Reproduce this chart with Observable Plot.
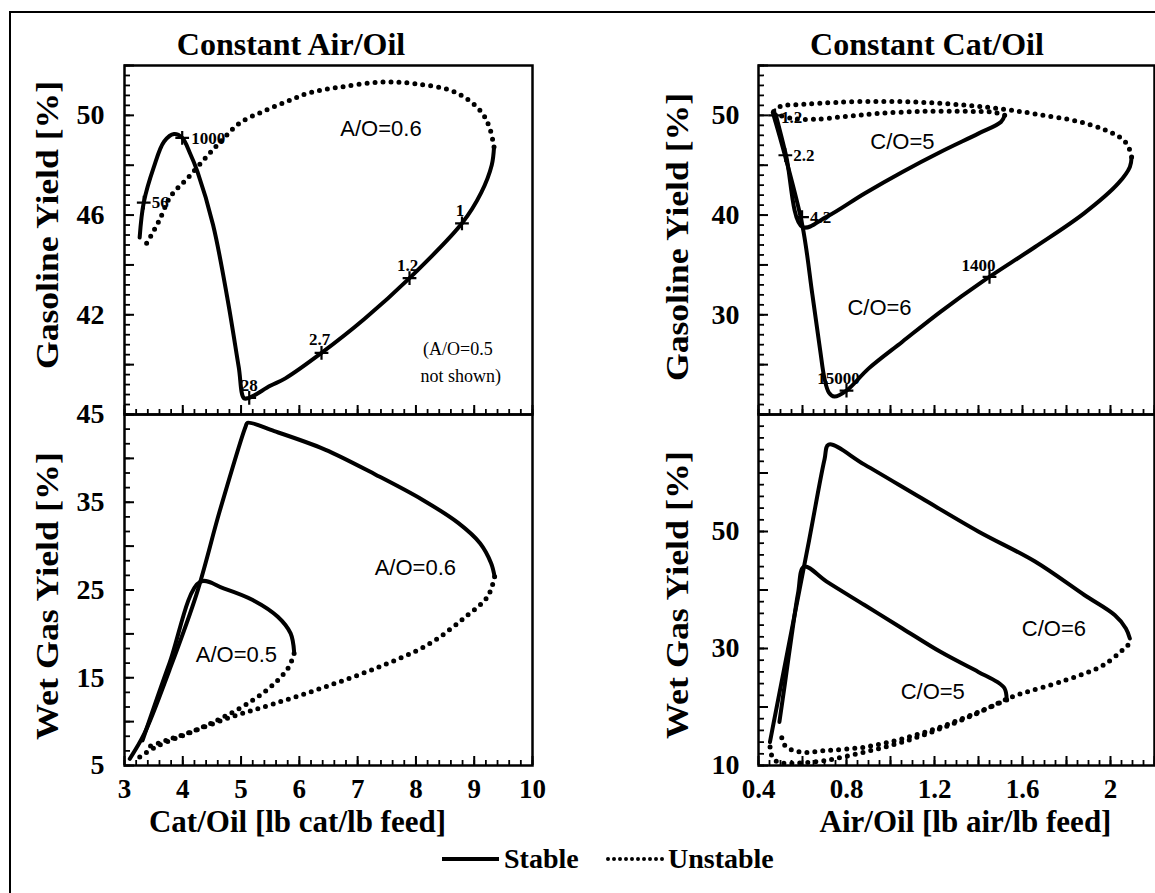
<!DOCTYPE html>
<html>
<head>
<meta charset="utf-8">
<script src="https://cdn.jsdelivr.net/npm/d3@7"></script>
<script src="https://cdn.jsdelivr.net/npm/@observablehq/plot@0.6"></script>
<style>
  html, body { margin: 0; padding: 0; background: #fff; }
  #fig { position: relative; width: 1155px; height: 893px; overflow: hidden; background: #fff; }
  #fig > svg, #fig > .panel { position: absolute; }
</style>
</head>
<body>
<div id="fig"></div>
<script>
// ---------------------------------------------------------------------------
// Gasoline yield vs cat/oil ratio at constant air/oil (A/O = 0.6)
const gasAO06Stable = [[3.26,45.1],[3.33,46.5],[3.5,47.9],[3.68,48.95],[3.85,49.25],[3.99,49.1],[4.12,48.5],[4.25,47.75],[4.52,45.6],[4.77,42.6],[4.96,39.9],[5.05,38.65],[5.14,38.67],[5.5,39.15],[5.76,39.45],[6.38,40.47],[7.12,41.84],[7.89,43.47],[8.79,45.67],[9.12,46.9],[9.3,48.0],[9.34,48.73]];
const gasAO06Unstable = [[9.34,48.73],[9.26,49.53],[9.1,50.2],[8.67,50.93],[7.99,51.27],[7.37,51.33],[6.69,51.13],[6.17,50.9],[5.78,50.55],[5.37,50.15],[4.98,49.7],[4.69,49.05],[4.43,48.4],[4.09,47.5],[3.79,46.75],[3.6,45.8],[3.45,45.15],[3.35,44.75]];
const gasAO06Points = [[3.33,46.5],[3.99,49.1],[5.14,38.67],[6.38,40.47],[7.89,43.47],[8.79,45.67]];
const gasAO06Labels = ["56","1000","28","2.7","1.2","1"];

// Wet gas yield vs cat/oil ratio at constant air/oil
const wetAO06Stable = [[3.09,5.76],[3.34,8.62],[3.77,15.86],[4.24,24.62],[4.64,34.14],[5.08,43.67],[5.11,44.05],[5.57,43.1],[6.44,41.0],[7.31,38.14],[8.11,35.29],[8.73,32.62],[9.1,30.33],[9.29,28.05],[9.35,26.52]];
const wetAO06Unstable = [[9.35,26.52],[9.23,24.24],[8.85,21.95],[8.24,18.9],[7.37,16.24],[6.44,13.95],[5.57,12.05],[4.83,10.52],[4.08,8.62],[3.53,7.1],[3.22,5.76]];
const wetAO05Stable = [[3.31,7.86],[3.77,16.62],[4.3,25.95],[4.7,25.19],[5.2,23.86],[5.63,21.95],[5.85,20.05],[5.91,17.95]];
const wetAO05Unstable = [[5.91,17.76],[5.82,16.24],[5.57,14.33],[5.2,12.43],[4.7,10.52],[4.21,9.0],[3.71,7.86],[3.4,7.1]];

// Gasoline yield vs air/oil ratio at constant cat/oil (C/O = 5 and 6)
const gasCO6Stable = [[0.465,50.3],[0.52,46.0],[0.6,38.9],[0.645,32.0],[0.68,26.5],[0.7,23.6],[0.72,22.2],[0.745,21.8],[0.8,22.4],[0.9,24.6],[1.054,27.3],[1.227,30.3],[1.416,33.3],[1.657,36.8],[1.881,40.2],[2.036,43.2],[2.088,44.83],[2.096,45.83]];
const gasCO6Unstable = [[2.096,45.83],[2.088,46.5],[2.06,47.5],[1.98,48.5],[1.85,49.4],[1.67,50.1],[1.52,50.6],[1.35,51.0],[1.15,51.3],[0.95,51.4],[0.75,51.3],[0.6,51.1],[0.5,50.9],[0.465,50.3]];
const gasCO5Stable = [[0.478,50.1],[0.525,46.0],[0.6,38.8],[0.71,39.83],[0.882,42.17],[1.054,44.33],[1.227,46.33],[1.399,48.17],[1.502,49.33],[1.519,50.0]];
const gasCO5Unstable = [[1.519,50.0],[1.47,50.3],[1.35,50.4],[1.15,50.4],[0.95,50.2],[0.8,49.9],[0.65,49.6],[0.55,49.7],[0.48,50.1]];
const gasCOPoints = [[0.475,50.0],[0.522,46.0],[0.598,39.8],[1.45,33.8],[0.8,22.4]];
const gasCOLabels = ["1.2","2.2","4.2","1400","15000"];

// Wet gas yield vs air/oil ratio at constant cat/oil
const wetCO6Stable = [[0.452,14.0],[0.475,18.5],[0.55,33.0],[0.63,48.5],[0.7,62.3],[0.719,64.86],[0.882,61.43],[1.14,55.71],[1.399,50.0],[1.657,44.86],[1.881,39.14],[2.019,35.71],[2.07,33.43],[2.088,31.71]];
const wetCO6Unstable = [[2.079,30.57],[1.967,27.14],[1.795,24.57],[1.571,22.0],[1.519,21.2],[1.399,19.0],[1.227,16.3],[1.054,14.0],[0.882,12.3],[0.71,10.9],[0.572,10.4],[0.486,10.6],[0.46,11.7],[0.452,13.4]];
const wetCO5Stable = [[0.495,17.43],[0.52,24.0],[0.55,32.0],[0.58,39.5],[0.607,44.0],[0.71,41.43],[0.882,37.43],[1.054,33.43],[1.227,29.43],[1.399,26.0],[1.485,24.29],[1.519,23.14],[1.528,21.43]];
const wetCO5Unstable = [[1.528,21.2],[1.399,19.14],[1.227,16.57],[1.054,14.57],[0.882,13.14],[0.71,12.57],[0.589,12.3],[0.52,13.43],[0.5,16.0]];

// Axis tick labels
const catOilTicks = [3,4,5,6,7,8,9,10];
const airOilTicks = [0.4,0.8,1.2,1.6,2];
const gasAOTicks = [42,46,50];
const wetAOTicks = [5,15,25,35,45];
const gasCOTicks = [30,40,50];
const wetCOTicks = [10,30,50];

// Panel titles, axis titles and key
const columnTitles = ["Constant Air/Oil", "Constant Cat/Oil"];
const xTitles = ["Cat/Oil [lb cat/lb feed]", "Air/Oil [lb air/lb feed]"];
const yTitles = ["Gasoline Yield [%]", "Wet Gas Yield [%]"];
const legendLabels = ["Stable", "Unstable"];
// ---------------------------------------------------------------------------

const SERIF = "'Liberation Serif', 'Times New Roman', serif";
const SANS = "'Liberation Sans', Arial, sans-serif";
const fig = document.getElementById("fig");

// page-pixel geometry of the four frames
const COLS = {
  left:  {x0: 124, x1: 532, svgX: 0,   svgW: 560, titleDx: -76, labelDx: -20},
  right: {x0: 758, x1: 1154, svgX: 560, svgW: 595, titleDx: -80, labelDx: -19}
};
const ROWS = {top: {y0: 65, y1: 414, svgY: 0, bottom: 2}, bottom: {y0: 414, y1: 765, svgY: 400, bottom: 80}};

const pair = {x: d => d[0], y: d => d[1]};
const solid = (data) => Plot.line(data, {...pair, curve: "catmull-rom", stroke: "black", strokeWidth: 4, strokeLinejoin: "round", strokeLinecap: "round"});
const dotted = (data) => Plot.line(data, {...pair, curve: "catmull-rom", stroke: "black", strokeWidth: 5, strokeDasharray: "0 8", strokeLinecap: "round"});
const note = (x, y, text, extra = {}) => Plot.text([text], {x: () => x, y: () => y, text: d => d, fontFamily: SANS, fontSize: 22, fontWeight: "normal", ...extra});

function ticksY(minor, major, fw) {
  return [
    Plot.tickY(minor, {y: d => d, insetRight: fw - 6, stroke: "black", strokeWidth: 1.8}),
    Plot.tickY(major, {y: d => d, insetRight: fw - 10, stroke: "black", strokeWidth: 2})
  ];
}
function ticksX(minor, major, fh) {
  return [
    Plot.tickX(minor, {x: d => d, insetTop: fh - 5, stroke: "black", strokeWidth: 1.8}),
    Plot.tickX(major, {x: d => d, insetTop: fh - 9, stroke: "black", strokeWidth: 2})
  ];
}

function panel({col, row, xDomain, yDomain, xMinor, xMajor, yMinor, yMajor, yLabels, yTitle, yTitleDy = 0, xLabels, xTitle, xTitleDx = 0, marks}) {
  const c = COLS[col], r = ROWS[row];
  const fw = c.x1 - c.x0, fh = r.y1 - r.y0;
  const marginLeft = c.x0 - c.svgX;
  const marginRight = c.svgX + c.svgW - c.x1;
  const marginTop = r.y0 - r.svgY;
  const marginBottom = r.bottom;
  const all = [
    ...marks,
    ...ticksY(yMinor, yMajor, fw),
    ...ticksX(xMinor, xMajor, fh),
    Plot.frame({stroke: "black", strokeWidth: 2.5}),
    Plot.text(yLabels, {y: d => d, text: d => String(d), frameAnchor: "left", textAnchor: "end", dx: c.labelDx, fontSize: 28, fontWeight: "bold", fontFamily: SERIF}),
    Plot.text([yTitle], {text: d => d, frameAnchor: "left", textAnchor: "middle", dx: c.titleDx, dy: yTitleDy, rotate: -90, fontSize: 31, fontWeight: "bold", fontFamily: SERIF})
  ];
  if (xLabels) {
    all.push(Plot.text(xLabels, {x: d => d, text: d => String(d), frameAnchor: "bottom", dy: 32, fontSize: 27, fontWeight: "bold", fontFamily: SERIF}));
    all.push(Plot.text([xTitle], {text: d => d, frameAnchor: "bottom", dy: 66, dx: xTitleDx, fontSize: 31, fontWeight: "bold", fontFamily: SERIF}));
  }
  const svg = Plot.plot({
    width: c.svgW,
    height: marginTop + fh + marginBottom,
    marginLeft, marginRight, marginTop, marginBottom,
    x: {domain: xDomain, axis: null},
    y: {domain: yDomain, axis: null},
    style: {fontFamily: SERIF, background: "transparent", overflow: "visible", color: "black"},
    marks: all
  });
  // the rotated axis titles are set a little taller than the type
  svg.querySelectorAll("text").forEach(t => {
    if (t.textContent === yTitle) {
      t.setAttribute("textLength", 288);
      t.setAttribute("lengthAdjust", "spacingAndGlyphs");
    }
  });
  const holder = document.createElement("div");
  holder.className = "panel";
  holder.style.left = c.svgX + "px";
  holder.style.top = r.svgY + "px";
  holder.appendChild(svg);
  fig.appendChild(holder);
}

const range = (a, b, s) => d3.range(Math.round((b - a) / s) + 1).map(i => +(a + i * s).toFixed(4));

// labelled parameter points along the curves
function pointMarks(points, labels, place) {
  const rows = points.map((p, i) => ({x: p[0], y: p[1], label: labels[i]}));
  return [
    Plot.dot(rows, {x: "x", y: "y", symbol: "plus", r: 4.5, stroke: "black", strokeWidth: 2.2}),
    ...rows.map(d => Plot.text([d], {x: "x", y: "y", text: "label", fontSize: 17, fontWeight: "bold", fontFamily: SERIF, ...place[d.label]}))
  ];
}
const right = {textAnchor: "start", dx: 8, dy: 0};
const above = {textAnchor: "middle", dx: -2, dy: -13};

// Top left: gasoline yield, constant air/oil
panel({
  col: "left", row: "top", xDomain: [3, 10], yDomain: [38, 52],
  xMinor: range(3, 10, 0.2), xMajor: range(3, 10, 1),
  yMinor: range(38, 52, 0.4), yMajor: range(38, 52, 2),
  yLabels: gasAOTicks, yTitle: yTitles[0], yTitleDy: -15,
  marks: [
    dotted(gasAO06Unstable),
    solid(gasAO06Stable),
    ...pointMarks(gasAO06Points, gasAO06Labels, {
      "56": right, "1000": {textAnchor: "start", dx: 9, dy: 1}, "28": {textAnchor: "middle", dy: -12}, "2.7": above, "1.2": above, "1": above
    }),
    note(7.4, 49.45, "A/O=0.6"),
    note(8.72, 40.6, "(A/O=0.5", {fontFamily: SERIF, fontSize: 18}),
    note(8.77, 39.55, "not shown)", {fontFamily: SERIF, fontSize: 18})
  ]
});

// Bottom left: wet gas yield, constant air/oil
panel({
  col: "left", row: "bottom", xDomain: [3, 10], yDomain: [5, 45],
  xMinor: range(3, 10, 0.2), xMajor: range(3, 10, 1),
  yMinor: range(5, 45, 10 / 6), yMajor: range(5, 45, 5),
  yLabels: wetAOTicks, yTitle: yTitles[1], yTitleDy: 6,
  xLabels: catOilTicks, xTitle: xTitles[0], xTitleDx: -31,
  marks: [
    dotted(wetAO06Unstable),
    dotted(wetAO05Unstable),
    solid(wetAO06Stable),
    solid(wetAO05Stable),
    note(7.99, 27.5, "A/O=0.6"),
    note(4.92, 17.6, "A/O=0.5")
  ]
});

// Top right: gasoline yield, constant cat/oil
panel({
  col: "right", row: "top", xDomain: [0.4, 2.2], yDomain: [20, 55],
  xMinor: range(0.4, 2.2, 0.05), xMajor: range(0.4, 2.2, 0.2),
  yMinor: range(20, 55, 1), yMajor: range(20, 55, 5),
  yLabels: gasCOTicks, yTitle: yTitles[0], yTitleDy: -3,
  marks: [
    dotted(gasCO6Unstable),
    dotted(gasCO5Unstable),
    solid(gasCO6Stable),
    solid(gasCO5Stable),
    ...pointMarks(gasCOPoints, gasCOLabels, {
      "1.2": {textAnchor: "start", dx: 6, dy: 2},
      "2.2": right, "4.2": right,
      "1400": {textAnchor: "end", dx: 6, dy: -11},
      "15000": {textAnchor: "middle", dx: -8, dy: -12}
    }),
    note(1.054, 47.35, "C/O=5"),
    note(0.95, 30.7, "C/O=6")
  ]
});

// Bottom right: wet gas yield, constant cat/oil
panel({
  col: "right", row: "bottom", xDomain: [0.4, 2.2], yDomain: [10, 70],
  xMinor: range(0.4, 2.2, 0.05), xMajor: range(0.4, 2.2, 0.2),
  yMinor: range(10, 70, 2), yMajor: range(10, 70, 10),
  yLabels: wetCOTicks, yTitle: yTitles[1], yTitleDy: 5,
  xLabels: airOilTicks, xTitle: xTitles[1], xTitleDx: 9,
  marks: [
    dotted(wetCO6Unstable),
    dotted(wetCO5Unstable),
    solid(wetCO6Stable),
    solid(wetCO5Stable),
    note(1.743, 33.4, "C/O=6"),
    note(1.192, 22.6, "C/O=5")
  ]
});

// Outer box, column titles and the stable / unstable key
const over = d3.select(fig).insert("svg", ":first-child")
  .attr("width", 1155).attr("height", 893)
  .style("left", "0px").style("top", "0px");
over.append("rect").attr("x", 10).attr("y", 12).attr("width", 1200).attr("height", 1000)
  .attr("fill", "none").attr("stroke", "black").attr("stroke-width", 2);
over.selectAll("text.col").data(columnTitles).join("text")
  .attr("x", (d, i) => i === 0 ? 291 : 927).attr("y", 55)
  .attr("text-anchor", "middle")
  .style("font-family", SERIF).style("font-weight", "bold").style("font-size", "32px")
  .text(d => d);

const key = over.append("g").attr("transform", "translate(0,859)");
key.append("line").attr("x1", 442).attr("x2", 499).attr("y1", 0).attr("y2", 0)
  .attr("stroke", "black").attr("stroke-width", 4);
key.append("line").attr("x1", 608).attr("x2", 664).attr("y1", 0).attr("y2", 0)
  .attr("stroke", "black").attr("stroke-width", 4).attr("stroke-dasharray", "0 6").attr("stroke-linecap", "round");
key.selectAll("text").data(legendLabels).join("text")
  .attr("x", (d, i) => i === 0 ? 504 : 668).attr("y", 9)
  .style("font-family", SERIF).style("font-weight", "bold").style("font-size", "28px")
  .text(d => d);
</script>
</body>
</html>
